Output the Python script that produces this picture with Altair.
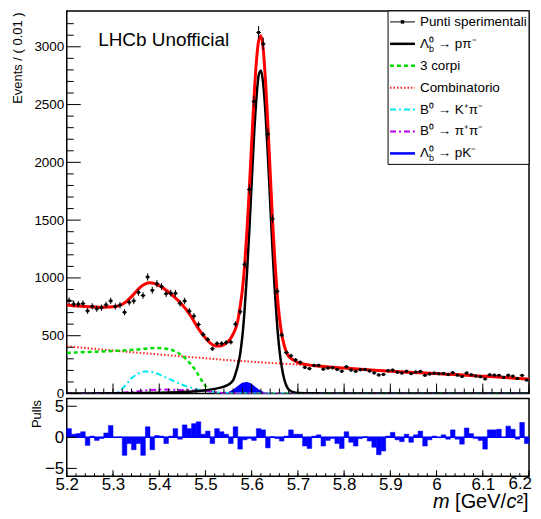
import math
import altair as alt
import pandas as pd

FONT = "Liberation Sans"

# ---------------- values ----------------
bin_low = [round(5.20 + 0.01 * i, 2) for i in range(100)]

counts = [804, 774, 773, 778, 715, 754, 733, 742, 767, 801,
          753, 764, 703, 789, 801, 875, 848, 1008, 893, 950,
          926, 863, 868, 867, 780, 800, 713, 670, 597, 510,
          467, 387, 432, 432, 441, 445, 600, 707, 1117, 1766,
          2527, 3124, 3025, 2245, 1511, 884, 506, 354, 326, 290,
          270, 226, 215, 243, 243, 211, 221, 223, 208, 193,
          231, 203, 192, 206, 208, 195, 178, 160, 165, 197,
          202, 184, 177, 192, 172, 185, 191, 157, 169, 176,
          171, 174, 163, 180, 159, 146, 177, 162, 151, 145,
          126, 162, 159, 157, 140, 158, 150, 129, 157, 116]

pulls = [1.4, 0.5, 0.6, 0.9, -1.3, 0.2, -0.5, -0.2, 0.7, 1.9,
         0.0, 0.05, -2.9, -1.0, -2.0, -1.0, -2.9, 1.7, -2.0, 0.3,
         0.2, -1.0, 0.2, 1.4, -0.3, 2.0, 1.4, 2.2, 2.5, 0.5,
         1.0, -1.0, 1.4, 0.9, 0.5, -1.0, 1.7, -1.9, -0.4, -0.2,
         -0.5, 1.4, 1.2, -1.7, 0.1, -0.2, -0.6, 0.2, 1.2, 0.5,
         0.5, -1.4, -1.8, 0.2, 0.4, -1.4, -0.5, -0.2, -1.0, -1.8,
         0.9, -0.8, -1.4, -0.2, 0.1, -0.6, -1.6, -2.8, -2.2, 0.2,
         0.8, -0.4, -0.7, 0.5, -0.8, 0.4, 1.0, -1.4, -0.4, 0.2,
         -0.05, 0.4, -0.3, 1.2, -0.3, -1.1, 1.5, 0.6, -0.2, -0.5,
         -1.9, 1.2, 1.2, 1.3, 0.0, 1.8, 1.3, -0.3, 2.4, -1.0]

fit_x = [5.20, 5.21, 5.22, 5.23, 5.24, 5.25, 5.26, 5.27, 5.28, 5.29,
         5.30, 5.31, 5.32, 5.33, 5.34, 5.35, 5.36, 5.37, 5.38, 5.39,
         5.40, 5.41, 5.42, 5.43, 5.44, 5.45, 5.46, 5.47, 5.48, 5.49,
         5.50, 5.51, 5.52, 5.53, 5.54, 5.55,
         5.555, 5.56, 5.565, 5.57, 5.575, 5.58, 5.585, 5.59, 5.595, 5.60,
         5.605, 5.61, 5.615, 5.62, 5.625, 5.63, 5.635, 5.64, 5.645, 5.65,
         5.655, 5.66, 5.665, 5.67, 5.675, 5.68, 5.685, 5.69, 5.70,
         5.72, 5.75, 5.80, 5.85, 5.90, 5.95, 6.00, 6.05, 6.10, 6.15, 6.20]
fit_y = [768, 762, 758, 755, 752, 750, 748, 747, 747, 748,
         750, 756, 772, 800, 838, 882, 922, 949, 958, 951,
         933, 908, 878, 845, 808, 766, 718, 660, 592, 530,
         480, 438, 413, 410, 423, 455,
         480, 515, 560, 630, 750, 900, 1120, 1420, 1780, 2170,
         2550, 2860, 3050, 3095, 2980, 2700, 2330, 1920, 1510, 1160,
         870, 660, 515, 420, 360, 322, 303, 290, 268,
         250, 236, 220, 206, 193, 182, 172, 162, 150, 138, 125]

sig_x = [5.20, 5.30, 5.40, 5.45, 5.50, 5.52, 5.54, 5.55, 5.56, 5.565,
         5.57, 5.575, 5.58, 5.585, 5.59, 5.595, 5.60, 5.605, 5.61, 5.615,
         5.62, 5.625, 5.63, 5.635, 5.64, 5.645, 5.65, 5.655, 5.66, 5.665,
         5.67, 5.675, 5.68, 5.69, 5.70, 5.75, 5.80, 6.20]
sig_y = [0, 2, 6, 12, 28, 40, 60, 78, 115, 170,
         240, 340, 500, 740, 1050, 1420, 1820, 2220, 2540, 2750,
         2795, 2680, 2420, 2060, 1660, 1250, 890, 600, 380, 230,
         130, 70, 35, 12, 4, 1, 0, 0]

three_x = [5.20, 5.25, 5.30, 5.35, 5.37, 5.39, 5.41, 5.42, 5.43, 5.44,
           5.45, 5.46, 5.47, 5.48, 5.49, 5.50, 5.51, 5.52, 5.53, 6.20]
three_y = [352, 360, 368, 380, 388, 393, 390, 385, 372, 355,
           325, 290, 245, 190, 125, 65, 20, 3, 0, 0]

comb_x = [5.20, 5.25, 5.30, 5.35, 5.40, 5.45, 5.50, 5.55, 5.60, 5.65, 5.70,
          5.75, 5.80, 5.85, 5.90, 5.95, 6.00, 6.05, 6.10, 6.15, 6.20]
comb_y = [410, 390, 372, 354, 338, 321, 305, 288, 275, 262, 250,
          235, 219, 205, 192, 181, 171, 161, 149, 137, 124]

bkpi_x = [5.20, 5.29, 5.30, 5.31, 5.32, 5.33, 5.34, 5.35, 5.36, 5.37,
          5.38, 5.39, 5.40, 5.41, 5.42, 5.43, 5.44, 5.45, 5.46, 5.47,
          5.48, 5.49, 5.50, 5.52, 5.54, 5.56, 5.60, 6.20]
bkpi_y = [0, 0, 2, 8, 40, 85, 130, 162, 182, 191,
          190, 180, 165, 146, 128, 110, 92, 76, 62, 49,
          38, 29, 22, 12, 6, 3, 0, 0]

bpipi_x = [5.20, 5.25, 5.30, 5.33, 5.35, 5.38, 5.40, 5.43, 5.46, 5.50,
           5.52, 5.54, 5.57, 5.60, 6.20]
bpipi_y = [2, 3, 5, 10, 18, 30, 34, 32, 28, 22, 12, 4, 1, 0, 0]

pk_x = [5.53, 5.54, 5.55, 5.56, 5.57, 5.58, 5.59, 5.60, 5.61, 5.62,
        5.63, 5.64, 5.65, 5.66]
pk_y = [0, 4, 14, 34, 64, 92, 99, 82, 51, 24, 9, 2, 0.5, 0]

y_major = [0, 500, 1000, 1500, 2000, 2500, 3000]
y_minor = [100, 200, 300, 400, 600, 700, 800, 900, 1100, 1200, 1300, 1400,
           1600, 1700, 1800, 1900, 2100, 2200, 2300, 2400, 2600, 2700, 2800,
           2900, 3100, 3200]
x_major = [5.2, 5.3, 5.4, 5.5, 5.6, 5.7, 5.8, 5.9, 6.0, 6.1, 6.2]
x_minor = [round(5.2 + 0.02 * k, 2) for k in range(51)]
pull_major = [-5, 0, 5]
last_x_label = "6.2"

legend_labels = ["Punti sperimentali", "Λ⁰ → pπ⁻", "3 corpi", "Combinatorio",
                 "B⁰ → K⁺π⁻", "B⁰ → π⁺π⁻", "Λ⁰ → pK⁻"]
legend_sub = ["", "b", "", "", "", "", "b"]
watermark = "LHCb Unofficial"
y_title = "Events / ( 0.01 )"
pull_title = "Pulls"
x_title_parts = ["m", "[GeV/", "c", "²]"]
x_title_italic = [True, False, True, False]

# ---------------- layout / styles ----------------
W, H, PH = 464, 384, 78
xs = alt.Scale(domain=[5.2, 6.2], nice=False, zero=False)
ys = alt.Scale(domain=[0, 3310], nice=False, zero=False)
ps = alt.Scale(domain=[-6.25, 6.25], nice=False, zero=False)

AX_Y_MAIN = alt.Axis(
    values=y_major, format="d", labelFontSize=13.5, labelPadding=3, tickSize=0,
    title=y_title, titleFontSize=13, titleFontWeight="normal", titleAngle=270,
    titleAlign="right", titleBaseline="top", titleX=-55.5, titleY=1)
AX_Y_PULL = alt.Axis(
    values=pull_major, format="d", labelFontSize=17, labelPadding=3, tickSize=0,
    title=pull_title, titleFontSize=13, titleFontWeight="normal", titleAngle=270,
    titleAlign="right", titleBaseline="top", titleX=-36.5, titleY=1)
AX_X_PULL = alt.Axis(
    values=x_major[:-1], format="~g", labelFontSize=17, labelPadding=0, tickSize=0,
    labelFlush=False, labelOverlap=False, title=None)

one = pd.DataFrame({"k": [0]})


def MX(f):
    return alt.X(f, type="quantitative", scale=xs, axis=None)


def MY(f):
    return alt.Y(f, type="quantitative", scale=ys, axis=AX_Y_MAIN)


def PX(f):
    return alt.X(f, type="quantitative", scale=xs, axis=AX_X_PULL)


def PY(f):
    return alt.Y(f, type="quantitative", scale=ps, axis=AX_Y_PULL)


def curve(xv, yv, color, width, dash=None):
    df = pd.DataFrame({"x": xv, "y": yv})
    kw = dict(color=color, strokeWidth=width, interpolate="monotone", clip=True)
    if dash:
        kw["strokeDash"] = dash
    return alt.Chart(df).mark_line(**kw).encode(x=MX("x"), y=MY("y"))


main_layers = []
pk_df = pd.DataFrame({"x": pk_x, "y": pk_y})
main_layers.append(alt.Chart(pk_df).mark_area(color="#0000ff", opacity=1, interpolate="monotone").encode(
    x=MX("x"), y=MY("y")))
main_layers.append(curve(comb_x, comb_y, "#ff2020", 2, [1.5, 2]))
main_layers.append(curve(three_x, three_y, "#00e000", 2.5, [4, 3]))
main_layers.append(curve(bkpi_x, bkpi_y, "#00e8f0", 2, [6, 3, 2, 3]))
main_layers.append(curve(bpipi_x, bpipi_y, "#c000f0", 2, [6, 3, 2, 3]))
main_layers.append(curve(sig_x, sig_y, "black", 2.5))
main_layers.append(curve(fit_x, fit_y, "#ff0000", 3))

data_df = pd.DataFrame({
    "lo": bin_low,
    "hi": [round(b + 0.01, 3) for b in bin_low],
    "c": [round(b + 0.005, 3) for b in bin_low],
    "n": counts,
})
data_df["elo"] = data_df["n"] - data_df["n"].apply(math.sqrt)
data_df["ehi"] = data_df["n"] + data_df["n"].apply(math.sqrt)
main_layers.append(alt.Chart(data_df).mark_rule(color="black", strokeWidth=1).encode(
    x=MX("lo"), x2="hi:Q", y=MY("n")))
main_layers.append(alt.Chart(data_df).mark_rule(color="black", strokeWidth=1).encode(
    x=MX("c"), y=MY("elo"), y2="ehi:Q"))
main_layers.append(alt.Chart(data_df).mark_square(color="black", size=8, opacity=1).encode(
    x=MX("c"), y=MY("n")))

# inside ticks
main_layers.append(alt.Chart(pd.DataFrame({"v": y_major})).mark_rule(color="black", strokeWidth=1).encode(
    y=MY("v"), x=alt.value(0), x2=alt.value(14)))
main_layers.append(alt.Chart(pd.DataFrame({"v": y_minor})).mark_rule(color="black", strokeWidth=1).encode(
    y=MY("v"), x=alt.value(0), x2=alt.value(7)))
main_layers.append(alt.Chart(pd.DataFrame({"v": x_major})).mark_rule(color="black", strokeWidth=1).encode(
    x=MX("v"), y=alt.value(H), y2=alt.value(H - 10)))
main_layers.append(alt.Chart(pd.DataFrame({"v": x_minor})).mark_rule(color="black", strokeWidth=1).encode(
    x=MX("v"), y=alt.value(H), y2=alt.value(H - 5)))

# invisible spacer fixing the left margin of the layout
main_layers.append(alt.Chart(one).mark_rule(color="white", strokeWidth=1).encode(
    x=alt.value(-57), x2=alt.value(-57), y=alt.value(200), y2=alt.value(201)))

# legend
LX0, LX1, LY0, LY1 = 322.5, 464, 0, 154
main_layers.append(alt.Chart(one).mark_rect(fill="white", stroke="black", strokeWidth=1).encode(
    x=alt.value(LX0), x2=alt.value(LX1), y=alt.value(LY0), y2=alt.value(LY1)))
sym_styles = [
    dict(color="black", strokeWidth=1),
    dict(color="black", strokeWidth=2.5),
    dict(color="#00e000", strokeWidth=2.5, strokeDash=[4, 3]),
    dict(color="#ff2020", strokeWidth=2, strokeDash=[1.5, 2]),
    dict(color="#00e8f0", strokeWidth=2, strokeDash=[6, 3, 2, 3]),
    dict(color="#c000f0", strokeWidth=2, strokeDash=[6, 3, 2, 3]),
    dict(color="#0000ff", strokeWidth=2.5),
]
for k, lab in enumerate(legend_labels):
    ry = 11 + 22 * k
    main_layers.append(alt.Chart(one).mark_rule(**sym_styles[k]).encode(
        x=alt.value(324.5), x2=alt.value(349.5), y=alt.value(ry)))
    main_layers.append(alt.Chart(one).mark_text(
        align="left", baseline="middle", fontSize=13.5, font=FONT, color="black", text=lab).encode(
        x=alt.value(354.5), y=alt.value(ry)))
    if legend_sub[k]:
        main_layers.append(alt.Chart(one).mark_text(
            align="left", baseline="middle", fontSize=9, font=FONT, color="black", text=legend_sub[k]).encode(
            x=alt.value(363.5), y=alt.value(ry + 5)))
main_layers.append(alt.Chart(one).mark_square(color="black", size=12, opacity=1).encode(
    x=alt.value(337), y=alt.value(11)))

main_layers.append(alt.Chart(one).mark_text(
    align="left", baseline="middle", fontSize=19, font=FONT, color="black", text=watermark).encode(
    x=alt.value(31.5), y=alt.value(29.5)))

main = alt.layer(*main_layers).properties(width=W, height=H)

# ---------------- pulls panel ----------------
pull_df = pd.DataFrame({
    "lo": bin_low,
    "hi": [round(b + 0.01, 3) for b in bin_low],
    "p": pulls,
    "z": [0] * len(bin_low),
})
pull_layers = []
pull_layers.append(alt.Chart(pull_df).mark_rect(color="#0000ff", stroke="#0000ff", strokeWidth=0.5).encode(
    x=PX("lo"), x2="hi:Q", y=PY("p"), y2="z:Q"))
pull_layers.append(alt.Chart(pd.DataFrame({"v": [0]})).mark_rule(color="#0000ff", strokeWidth=1.5).encode(
    y=PY("v")))
pull_layers.append(alt.Chart(pd.DataFrame({"v": pull_major})).mark_rule(color="black", strokeWidth=1).encode(
    y=PY("v"), x=alt.value(0), x2=alt.value(10)))
pull_layers.append(alt.Chart(pd.DataFrame({"v": x_major})).mark_rule(color="black", strokeWidth=1).encode(
    x=PX("v"), y=alt.value(PH), y2=alt.value(PH - 6)))
pull_layers.append(alt.Chart(pd.DataFrame({"v": x_minor})).mark_rule(color="black", strokeWidth=1).encode(
    x=PX("v"), y=alt.value(PH), y2=alt.value(PH - 3)))
# last tick label kept inside the page width
pull_layers.append(alt.Chart(one).mark_text(
    align="right", baseline="top", fontSize=17, font=FONT, color="black", text=last_x_label).encode(
    x=alt.value(W + 3), y=alt.value(PH)))

# x title: "m [GeV/c²]" with italic m and c
fs = 20
starts = [367.5, 367.5 + 16.7 + 5.6, 367.5 + 16.7 + 5.6 + 51.1 + 0.5, 367.5 + 16.7 + 5.6 + 51.1 + 0.5 + 10.0]
for part, ital, sx in zip(x_title_parts, x_title_italic, starts):
    kw = dict(align="left", baseline="alphabetic", fontSize=fs, font=FONT, color="black", text=part)
    if ital:
        kw["fontStyle"] = "italic"
    pull_layers.append(alt.Chart(one).mark_text(**kw).encode(x=alt.value(sx), y=alt.value(109.5)))

pull = alt.layer(*pull_layers).properties(width=W, height=PH)

chart = alt.vconcat(main, pull, spacing=5, bounds="flush").properties(padding=0).configure_view(
    stroke="black", strokeWidth=1.5).configure_axis(
    grid=False, labelFont=FONT, titleFont=FONT, labelColor="black", titleColor="black",
    domain=False, ticks=False)

chart.save("out.html", embed_options={"renderer": "svg", "actions": False})
